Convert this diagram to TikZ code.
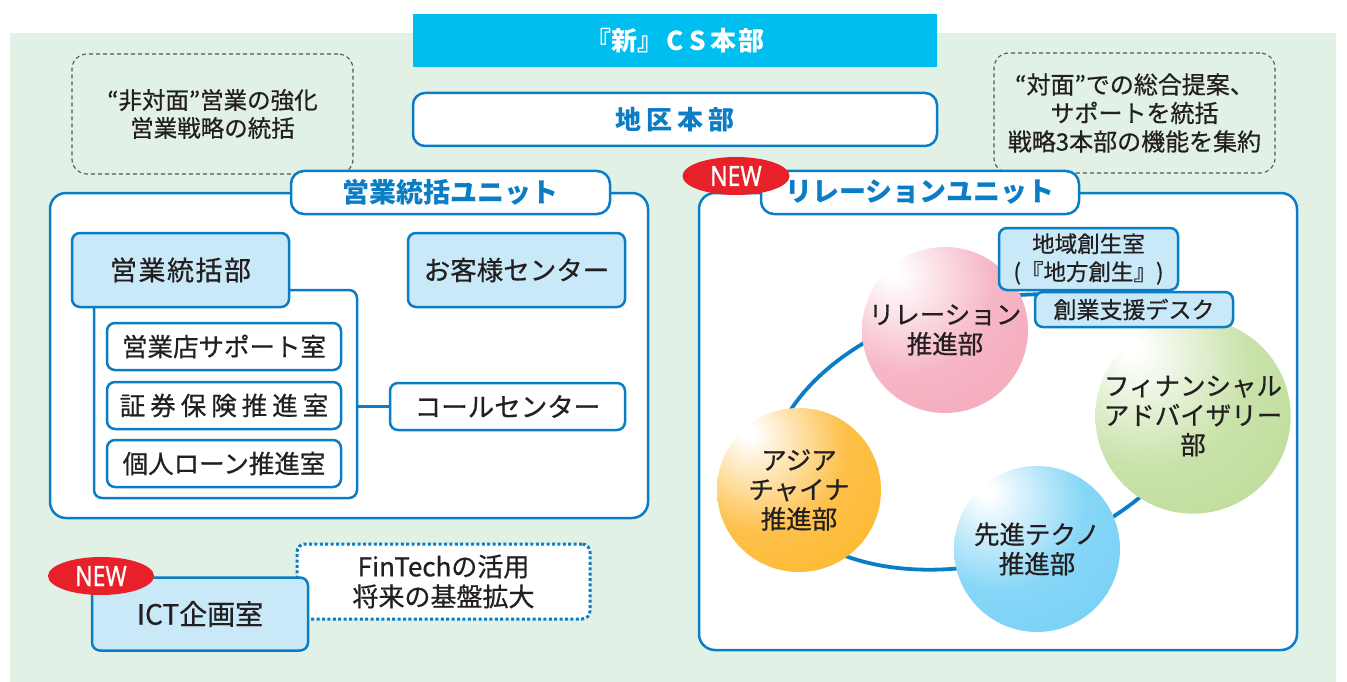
\documentclass[tikz,border=0pt]{standalone}
\usepackage{fontspec}
\setmainfont{Noto Sans CJK JP}[UprightFeatures={FakeBold=0.6}]
\newfontfamily\newtagfont{Noto Sans}[FakeStretch=0.82, FakeBold=0.8]
\usetikzlibrary{shapes.geometric}
\definecolor{bgGreen}{HTML}{E1F1E6}
\definecolor{cyanBar}{HTML}{00BFF0}
\definecolor{mainBlue}{HTML}{0B7DC6}
\definecolor{paleBlue}{HTML}{C9E9F8}
\definecolor{txt}{HTML}{231F20}
\definecolor{newRed}{HTML}{E8202A}
\definecolor{dashGray}{HTML}{555555}
\definecolor{pinkA}{HTML}{F6B6C5}
\definecolor{pinkB}{HTML}{F2A2B5}
\definecolor{orangeA}{HTML}{FDC04A}
\definecolor{orangeB}{HTML}{FCB415}
\definecolor{skyA}{HTML}{86D6F7}
\definecolor{skyB}{HTML}{6CCDF5}
\definecolor{leafA}{HTML}{C9E2AA}
\definecolor{leafB}{HTML}{B5D88C}
\pgfdeclareradialshading{pinkball}{\pgfpoint{-16bp}{18bp}}{color(0bp)=(white); color(2bp)=(white); color(26bp)=(pinkA); color(58bp)=(pinkB); color(95bp)=(pinkB)}
\pgfdeclareradialshading{orangeball}{\pgfpoint{-16bp}{18bp}}{color(0bp)=(white); color(2bp)=(white); color(26bp)=(orangeA); color(58bp)=(orangeB); color(95bp)=(orangeB)}
\pgfdeclareradialshading{skyball}{\pgfpoint{-16bp}{18bp}}{color(0bp)=(white); color(2bp)=(white); color(26bp)=(skyA); color(58bp)=(skyB); color(95bp)=(skyB)}
\pgfdeclareradialshading{leafball}{\pgfpoint{-16bp}{18bp}}{color(0bp)=(white); color(2bp)=(white); color(26bp)=(leafA); color(58bp)=(leafB); color(95bp)=(leafB)}
\tikzset{
  bluebox/.style={draw=mainBlue, line width=2.5pt, rounded corners=8pt, inner sep=0pt, fill=white, text=txt, align=center, font=\fontsize{25.5}{29}\selectfont},
  palebox/.style={bluebox, fill=paleBlue},
  unitbox/.style={draw=mainBlue, line width=2.5pt, rounded corners=16pt, fill=white, inner sep=0pt},
  titlebox/.style={draw=mainBlue, line width=2.5pt, rounded corners=13pt, fill=white, inner sep=0pt, text=mainBlue, font=\fontsize{27}{30}\selectfont\bfseries},
  notebox/.style={draw=dashGray, dash pattern=on 4pt off 3pt, line width=1.1pt, rounded corners=15pt, inner sep=0pt, align=center, text=txt},
  newtag/.style={ellipse, fill=newRed, text=white, inner sep=0pt, font=\fontsize{28}{30}\selectfont\newtagfont},
  ball/.style={circle, inner sep=0pt, align=center, text=txt, font=\fontsize{25.5}{29.5}\selectfont},
  ring/.style={draw=mainBlue, line width=3.8pt},
  link/.style={draw=mainBlue, line width=2.5pt},
}
\begin{document}
\begin{tikzpicture}[x=1pt, y=-1pt]
\useasboundingbox (0,0) rectangle (1347,682);
% background
\fill[bgGreen] (10,33) rectangle (1336,682);
% header
\node[fill=cyanBar, inner sep=0pt, minimum width=524, minimum height=53, text=white, font=\fontsize{26}{30}\selectfont\bfseries] (hq) at (675,40.5) {『新』\hspace{3pt}C\hspace{6pt}S\hspace{4pt}本\hspace{2pt}部};
\node[bluebox, minimum width=524, minimum height=53, text=mainBlue, font=\fontsize{26}{30}\selectfont\bfseries, rounded corners=12pt] (chiku) at (675,119.5) {地\hspace{5pt}区\hspace{5pt}本\hspace{5pt}部};
% notes
\node[notebox, minimum width=281, minimum height=120, font=\fontsize{23.5}{28}\selectfont] (noteL) at (212.5,114) {“非対面”営業の強化\\営業戦略の統括};
\node[notebox, minimum width=281, minimum height=120, font=\fontsize{24}{28.5}\selectfont] (noteR) at (1134.5,113) {“対面”での総合提案、\\サポートを統括\\戦略3本部の機能を集約};
% left unit
\node[unitbox, minimum width=598, minimum height=325] (unitL) at (349,355.5) {};
\node[titlebox, minimum width=319, minimum height=43] (titleL) at (450.5,192.5) {営業統括ユニット};
\node[draw=mainBlue, line width=2.5pt, rounded corners=8pt, inner sep=0pt, minimum width=263, minimum height=208] (bracket) at (225.5,394) {};
\node[palebox, minimum width=217, minimum height=74, font=\fontsize{27}{30}\selectfont] (eigyo) at (180.5,270) {営\hspace{1.5pt}業\hspace{1.5pt}統\hspace{1.5pt}括\hspace{1.5pt}部};
\node[palebox, minimum width=217, minimum height=74, font=\fontsize{26.5}{30}\selectfont] (okyaku) at (516.5,270) {お客様センター};
\node[bluebox, minimum width=234, minimum height=47] (room1) at (224,346.5) {営業店サポート室};
\node[bluebox, minimum width=234, minimum height=47] (room2) at (224,405.5) {証\hspace{5pt}券\hspace{5pt}保\hspace{5pt}険\hspace{5pt}推\hspace{5pt}進\hspace{5pt}室};
\node[bluebox, minimum width=234, minimum height=47] (room3) at (224,463.5) {個人ローン推進室};
\node[bluebox, minimum width=235, minimum height=47, font=\fontsize{26.5}{30}\selectfont] (call) at (507.5,406.5) {コールセンター};
\draw[link] (bracket.east |- call.west) -- (call.west);
% right unit
\node[unitbox, minimum width=598, minimum height=457] (unitR) at (998,421.5) {};
\node[titlebox, minimum width=318, minimum height=43] (titleR) at (920,192.5) {リレーションユニット};
\node[newtag, minimum width=107, minimum height=38] (newR) at (736,176) {NEW};
\draw[ring, rotate around={15:(985,432)}] (985,432) ellipse [x radius=218, y radius=130];
\node[ball, minimum size=166, shading=pinkball] (rel) at (945,330) {リレーション\\推進部};
\node[ball, minimum size=162, shading=leafball] (fin) at (1193,416) {フィナンシャル\\アドバイザリー\\部};
\node[ball, minimum size=166, shading=skyball] (tech) at (1037,549) {先進テクノ\\推進部};
\node[ball, minimum size=164, shading=orangeball] (asia) at (799,490) {アジア\\チャイナ\\推進部};
\node[palebox, minimum width=179, minimum height=62, font=\fontsize{22.5}{28}\selectfont] (chiiki) at (1088.5,259) {地域創生室\\(『地方創生』)};
\node[palebox, minimum width=198, minimum height=35, font=\fontsize{23}{26}\selectfont] (sogyo) at (1134,309.5) {創業支援デスク};
% ICT
\node[draw=mainBlue, dash pattern=on 3pt off 2.4pt, line width=3pt, rounded corners=8pt, fill=white, inner sep=0pt, minimum width=293, minimum height=75, align=center, text=txt, font=\fontsize{26}{30}\selectfont] (fintech) at (443.5,581.5) {FinTechの活用\\将来の基盤拡大};
\node[palebox, minimum width=216, minimum height=73, font=\fontsize{28}{30}\selectfont] (ict) at (200,614) {ICT企画室};
\node[newtag, minimum width=106, minimum height=38] (newL) at (101,576) {NEW};
\end{tikzpicture}
\end{document}
